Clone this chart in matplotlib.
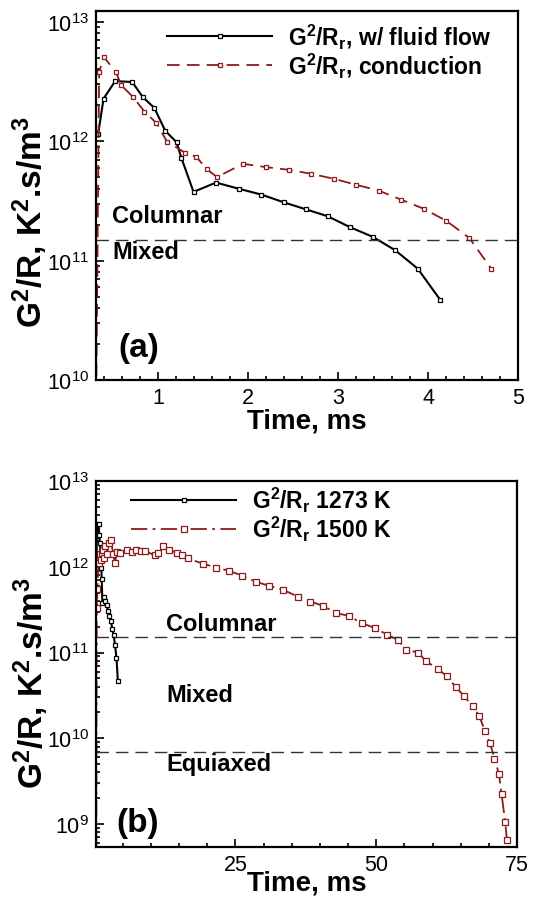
import matplotlib
matplotlib.use("Agg")
import matplotlib.pyplot as plt
from matplotlib.ticker import LogLocator, MultipleLocator, FixedLocator, NullFormatter

plt.rcParams["font.family"] = "Liberation Sans"
plt.rcParams["mathtext.fontset"] = "custom"
plt.rcParams["mathtext.rm"] = "Liberation Sans"
plt.rcParams["mathtext.bf"] = "Liberation Sans:bold"
plt.rcParams["mathtext.it"] = "Liberation Sans:italic"

# ---- panel (a): fluid flow vs conduction (Time in ms, G^2/R in K^2.s/m^3)
flow_t = [0.333, 0.394, 0.523, 0.712, 0.83, 0.958, 1.08, 1.205, 1.26, 1.394,
          1.644, 1.894, 2.148, 2.394, 2.64, 2.886, 3.136, 3.386, 3.636, 3.886, 4.136]
flow_g = [1.14e12, 2.27e12, 3.18e12, 3.13e12, 2.34e12, 1.9e12, 1.22e12, 9.8e11, 7.2e11, 3.76e11,
          4.5e11, 4.0e11, 3.57e11, 3.08e11, 2.69e11, 2.35e11, 1.9e11, 1.58e11, 1.22e11, 8.55e10, 4.69e10]

cond_t = [0.31, 0.345, 0.394, 0.534, 0.59, 0.723, 0.848, 0.977, 1.10, 1.30, 1.424, 1.545, 1.655,
          1.943, 2.2, 2.45, 2.70, 2.955, 3.20, 3.45, 3.70, 3.95, 4.20, 4.458, 4.705]
cond_g = [5e9, 3.76e12, 5.1e12, 3.76e12, 2.94e12, 2.34e12, 1.77e12, 1.43e12, 9.9e11, 8.0e11, 7.4e11, 5.8e11, 5.0e11,
          6.46e11, 6.06e11, 5.76e11, 5.33e11, 4.84e11, 4.31e11, 3.86e11, 3.24e11, 2.72e11, 2.16e11, 1.55e11, 8.5e10]

# ---- panel (b): 1273 K (same run as fluid flow above) vs 1500 K
hot_t = [0.3, 0.37, 0.48, 0.7, 0.9, 1.1, 1.26, 1.44, 1.65, 1.85, 2.2, 2.5, 2.88, 3.3, 3.62, 3.93,
         4.6, 5.7, 6.6, 7.4, 8.2, 8.95, 10.7, 11.3, 12.1, 13.2, 14.6, 15.5, 16.5, 19.2, 21.5, 23.8,
         26.2, 28.6, 31.05, 33.5, 36.1, 38.3, 40.6, 42.9, 45.1, 47.4, 49.8, 51.95, 53.8, 55.3, 57.4,
         58.9, 60.9, 62.55, 64.1, 65.6, 67.1, 68.3, 69.3, 70.2, 71.0, 71.8, 72.25, 72.9, 73.2, 73.5]
hot_g = [2.5e8, 3.29e11, 5.47e11, 1.12e12, 1.41e12, 1.20e12, 1.43e12, 1.58e12, 1.26e12, 1.74e12, 1.41e12,
         1.91e12, 2.07e12, 1.41e12, 1.10e12, 1.49e12, 1.45e12, 1.55e12, 1.48e12, 1.58e12, 1.51e12, 1.53e12,
         1.36e12, 1.45e12, 1.75e12, 1.58e12, 1.45e12, 1.38e12, 1.25e12, 1.09e12, 9.8e11, 9.0e11, 7.87e11,
         6.7e11, 5.97e11, 5.37e11, 4.49e11, 3.93e11, 3.50e11, 2.88e11, 2.68e11, 2.20e11, 1.93e11, 1.61e11,
         1.41e11, 1.08e11, 1.0e11, 7.9e10, 6.44e10, 5.3e10, 3.98e10, 3.1e10, 2.38e10, 1.82e10, 1.22e10,
         8.8e9, 5.8e9, 3.83e9, 2.24e9, 1.07e9, 6.6e8, 3.2e8]

columnar_limit = 1.5e11
equiaxed_limit = 7e9

DARK_RED = "#8b1a1a"
W, H = 535, 903
YLABEL = r"G$^{\mathbf{2}}$/R, K$^{\mathbf{2}}$.s/m$^{\mathbf{3}}$"
GR = r"G$^{\mathbf{2}}$/R$_{\mathbf{r}}$"


def style_axes(ax, xlim, ylim, xmajor, xminor):
    ax.set_yscale("log")
    ax.set_xlim(*xlim)
    ax.set_ylim(*ylim)
    ax.xaxis.set_major_locator(FixedLocator(xmajor))
    ax.xaxis.set_minor_locator(MultipleLocator(xminor))
    ax.yaxis.set_major_locator(LogLocator(base=10))
    ax.yaxis.set_minor_locator(LogLocator(base=10, subs=range(2, 10)))
    ax.yaxis.set_minor_formatter(NullFormatter())
    ax.tick_params(which="both", direction="in", top=False, right=False, width=1.2)
    ax.tick_params(which="major", length=6, labelsize=15.5, pad=5)
    ax.tick_params(which="minor", length=3)
    for sp in ax.spines.values():
        sp.set_linewidth(1.6)
    ax.set_xlabel("Time, ms", fontsize=20, fontweight="bold")
    ax.set_ylabel(YLABEL, fontsize=24, fontweight="bold")


def add_legend(ax, anchor):
    ax.legend(loc="upper left", bbox_to_anchor=anchor, frameon=False, numpoints=1,
              prop={"size": 16.5, "weight": "bold"}, handlelength=4.6, handletextpad=0.7,
              labelspacing=0.0, borderpad=0, borderaxespad=0)


fig = plt.figure(figsize=(W / 100, H / 100), dpi=100)

# panel (a)
ax1 = fig.add_axes([96 / W, 1 - 381 / H, 422 / W, 369 / H])
ax1.plot(flow_t, flow_g, color="black", lw=1.5, marker="s", ms=3.5, mfc="white", mec="black", mew=0.9,
         label=GR + ", w/ fluid flow")
ax1.plot(cond_t, cond_g, color=DARK_RED, lw=1.3, ls=(0, (7, 4)), marker="s", ms=3.5, mfc="white",
         mec=DARK_RED, mew=0.9, label=GR + ", conduction")
ax1.axhline(columnar_limit, color="#333333", lw=1, ls=(0, (9, 5)))
style_axes(ax1, (0.31, 5), (1e10, 1.23e13), [1, 2, 3, 4, 5], 0.2)
ax1.xaxis.set_label_coords(0.5, -0.075)
ax1.yaxis.set_label_coords(-0.108, 0.43)
ax1.text(0.039, 0.447, "Columnar", transform=ax1.transAxes, fontsize=17, fontweight="bold", va="center")
ax1.text(0.039, 0.347, "Mixed", transform=ax1.transAxes, fontsize=17, fontweight="bold", va="center")
ax1.text(0.052, 0.089, "(a)", transform=ax1.transAxes, fontsize=24, fontweight="bold", va="center")
add_legend(ax1, (0.168, 0.972))

# panel (b)
ax2 = fig.add_axes([96 / W, 1 - 848 / H, 421 / W, 366 / H])
ax2.plot(flow_t, flow_g, color="black", lw=1.5, marker="s", ms=3.5, mfc="white", mec="black", mew=0.9,
         label=GR + " 1273 K")
ax2.plot(hot_t, hot_g, color=DARK_RED, lw=1.3, ls=(0, (9, 3, 1.5, 3)), marker="s", ms=3.8, mfc="white",
         mec=DARK_RED, mew=0.9, label=GR + " 1500 K")
ax2.axhline(columnar_limit, color="#333333", lw=1, ls=(0, (9, 5)))
ax2.axhline(equiaxed_limit, color="#333333", lw=1, ls=(0, (9, 5)))
style_axes(ax2, (0.25, 75), (5.4e8, 1e13), [25, 50, 75], 5)
ax2.xaxis.set_label_coords(0.5, -0.062)
ax2.yaxis.set_label_coords(-0.108, 0.45)
ax2.text(0.166, 0.611, "Columnar", transform=ax2.transAxes, fontsize=17, fontweight="bold", va="center")
ax2.text(0.166, 0.418, "Mixed", transform=ax2.transAxes, fontsize=17, fontweight="bold", va="center")
ax2.text(0.166, 0.229, "Equiaxed", transform=ax2.transAxes, fontsize=17, fontweight="bold", va="center")
ax2.text(0.0475, 0.068, "(b)", transform=ax2.transAxes, fontsize=24, fontweight="bold", va="center")
add_legend(ax2, (0.083, 0.99))

fig.savefig("out.png", dpi=100)
